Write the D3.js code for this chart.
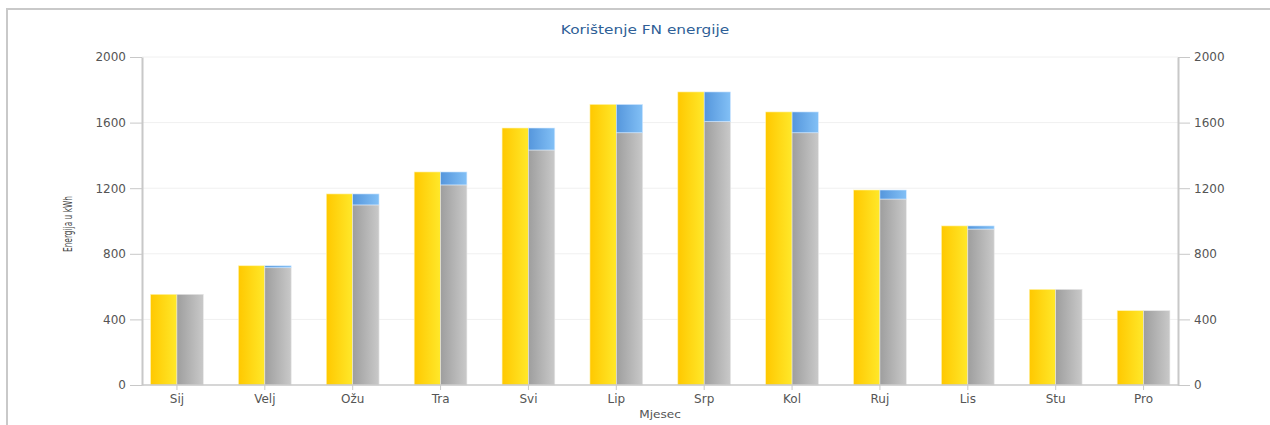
<!DOCTYPE html>
<html>
<head>
<meta charset="utf-8">
<script src="https://cdn.jsdelivr.net/npm/d3@7"></script>
<style>
  html, body { margin: 0; padding: 0; background: #fff; }
  svg { display: block; }
  text { font-family: "DejaVu Sans", Verdana, sans-serif; }
</style>
</head>
<body>
<svg id="chart" width="1270" height="425"></svg>
<script>
// Mjeseci
const mjeseci = ["Sij", "Velj", "Ožu", "Tra", "Svi", "Lip", "Srp", "Kol", "Ruj", "Lis", "Stu", "Pro"];
// Proizvedena FN energija (kWh)
const proizvodnja = [553, 727, 1165, 1299, 1567, 1711, 1787, 1665, 1189, 970, 583, 453];
// Vlastita potrošnja (kWh)
const vlastitaPotrosnja = [553, 715, 1098, 1220, 1433, 1538, 1606, 1538, 1134, 951, 583, 453];
// Predano u mrežu (kWh)
const predanoMrezi = [0, 12, 67, 79, 134, 173, 181, 127, 55, 19, 0, 0];
// Oznake osi Y
const yTicks = [0, 400, 800, 1200, 1600, 2000];

const svg = d3.select("#chart");

// Okvir grafikona
svg.append("rect")
  .attr("x", 7).attr("y", 9).attr("width", 1275).attr("height", 430)
  .attr("fill", "none").attr("stroke", "#c9c9c9").attr("stroke-width", 2);

const plot = { left: 142, right: 1178, top: 57, bottom: 385 };

const x = d3.scaleBand().domain(mjeseci).range([133, 1187.5]).padding(0);
const y = d3.scaleLinear().domain([0, 2000]).range([plot.bottom, plot.top]);

// Gradijenti stupaca
const defs = svg.append("defs");
function grad(id, c0, c1) {
  const g = defs.append("linearGradient").attr("id", id)
    .attr("x1", "0%").attr("x2", "100%").attr("y1", "0%").attr("y2", "0%");
  g.append("stop").attr("offset", "0%").attr("stop-color", c0);
  g.append("stop").attr("offset", "100%").attr("stop-color", c1);
}
grad("gYellow", "#ffc800", "#ffe82a");
grad("gGray", "#9e9e9e", "#c9c9c9");
grad("gBlue", "#5596dc", "#82c0f6");

// Mreža
svg.append("g").selectAll("line").data(yTicks.filter(d => d > 0)).join("line")
  .attr("x1", plot.left).attr("x2", plot.right)
  .attr("y1", d => y(d)).attr("y2", d => y(d))
  .attr("stroke", "#f0f0f0").attr("stroke-width", 1);

// Stupci
const groupW = x.bandwidth() * 0.6;
const barW = groupW / 2;
const g = svg.append("g");
mjeseci.forEach((m, i) => {
  const cx = x(m) + x.bandwidth() / 2;
  g.append("rect")
    .attr("x", cx - barW).attr("width", barW)
    .attr("y", y(proizvodnja[i])).attr("height", y(0) - y(proizvodnja[i]))
    .attr("fill", "url(#gYellow)").attr("stroke", "#fff3b0").attr("stroke-width", 0.6);
  g.append("rect")
    .attr("x", cx).attr("width", barW)
    .attr("y", y(vlastitaPotrosnja[i])).attr("height", y(0) - y(vlastitaPotrosnja[i]))
    .attr("fill", "url(#gGray)").attr("stroke", "#e6e6e6").attr("stroke-width", 0.6);
  if (predanoMrezi[i] > 0) {
    const top = vlastitaPotrosnja[i] + predanoMrezi[i];
    g.append("rect")
      .attr("x", cx).attr("width", barW)
      .attr("y", y(top)).attr("height", y(vlastitaPotrosnja[i]) - y(top))
      .attr("fill", "url(#gBlue)").attr("stroke", "#d6eaff").attr("stroke-width", 0.6);
  }
});

// Os X
const xAxis = svg.append("g").attr("transform", `translate(0,${plot.bottom})`)
  .call(d3.axisBottom(x).tickSize(5).tickPadding(4));
xAxis.select(".domain").remove();
xAxis.selectAll(".tick line").attr("stroke", "#c8c8c8");
xAxis.selectAll("text").attr("fill", "#555").attr("font-size", 12);
svg.append("line")
  .attr("x1", plot.left).attr("x2", plot.right)
  .attr("y1", plot.bottom).attr("y2", plot.bottom)
  .attr("stroke", "#c8c8c8").attr("stroke-width", 1.5);

const fmt = d3.format("d");

// Lijeva os Y
const yl = svg.append("g").attr("transform", `translate(${plot.left},0)`)
  .call(d3.axisLeft(y).tickValues(yTicks).tickFormat(fmt).tickSize(12).tickPadding(4).tickSizeOuter(0));
yl.select(".domain").attr("stroke", "#c8c8c8").attr("stroke-width", 2);
yl.selectAll(".tick line").attr("stroke", "#c8c8c8");
yl.selectAll("text").attr("fill", "#555").attr("font-size", 12);

// Desna os Y
const yr = svg.append("g").attr("transform", `translate(${plot.right},0)`)
  .call(d3.axisRight(y).tickValues(yTicks).tickFormat(fmt).tickSize(12).tickPadding(4).tickSizeOuter(0));
yr.select(".domain").attr("stroke", "#c8c8c8").attr("stroke-width", 2);
yr.selectAll(".tick line").attr("stroke", "#c8c8c8");
yr.selectAll("text").attr("fill", "#555").attr("font-size", 12);

// Naslovi
svg.append("text")
  .attr("transform", "translate(645,34) scale(1.18,1)")
  .attr("text-anchor", "middle")
  .attr("font-size", 13).attr("fill", "#2f5f97")
  .text("Korištenje FN energije");

svg.append("text")
  .attr("transform", "translate(660,418) scale(1.1,1)")
  .attr("text-anchor", "middle")
  .attr("font-size", 11).attr("fill", "#555")
  .text("Mjesec");

svg.append("text")
  .attr("transform", "translate(72,224) rotate(-90) scale(0.62,1)")
  .attr("text-anchor", "middle")
  .attr("font-size", 12).attr("fill", "#444")
  .text("Energija u kWh");
</script>
</body>
</html>
